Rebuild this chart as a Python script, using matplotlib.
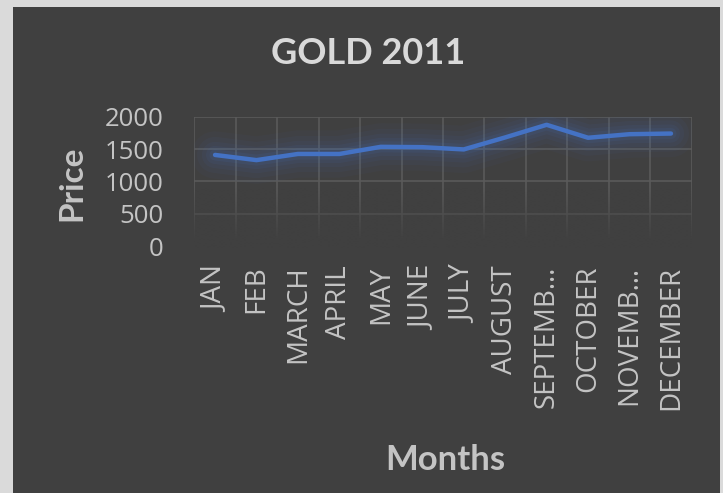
import numpy as np
import matplotlib
matplotlib.use("Agg")
import matplotlib.pyplot as plt
from matplotlib.patches import Rectangle

months = ["JAN", "FEB", "MARCH", "APRIL", "MAY", "JUNE", "JULY", "AUGUST",
          "SEPTEMB…", "OCTOBER", "NOVEMB…", "DECEMBER"]
price = [1410, 1330, 1425, 1425, 1535, 1530, 1495, 1680, 1875, 1675, 1730, 1740]
y_ticks = [0, 500, 1000, 1500, 2000]

BG = "#404040"
GRID = "#5a5a5a"
TXT = "#d9d9d9"
TICK = "#c4c4c4"
LINE = "#4472C4"

fig = plt.figure(figsize=(7.23, 4.93), dpi=100, facecolor="#dadada")
# dark chart panel inside the light frame
panel = Rectangle((13 / 723, 0), (720 - 13) / 723, 1 - 7 / 493,
                  transform=fig.transFigure, facecolor=BG,
                  edgecolor="none", zorder=-10)
fig.add_artist(panel)

ax = fig.add_axes([194.3 / 723, 1 - 246.3 / 493, (691.7 - 194.3) / 723,
                   (246.3 - 116.7) / 493])
ax.set_facecolor(BG)
x = np.arange(len(months))

ax.set_xlim(-0.5, len(months) - 0.5)
ax.set_ylim(0, 2000)
ax.set_yticks(y_ticks)
ax.set_yticklabels([str(v) for v in y_ticks])
ax.set_xticks(np.arange(-0.5, len(months), 1.0), minor=False)
ax.set_xticklabels([])
ax.set_xticks(x, minor=True)
ax.set_xticklabels(months, minor=True, rotation=90, va="top", ha="center")

ax.grid(True, which="major", color=GRID, linewidth=1.2)
ax.set_axisbelow(True)
for s in ax.spines.values():
    s.set_visible(False)
ax.tick_params(which="both", length=0)
ax.tick_params(axis="y", labelsize=18.5, labelcolor=TICK, pad=22)
ax.tick_params(axis="x", which="minor", labelsize=20, labelcolor=TICK, pad=14)
for lbl in ax.get_yticklabels() + ax.get_xticklabels(minor=True):
    lbl.set_fontfamily("Open Sans")

# grid fades out toward the bottom of the plot area
fade = np.zeros((256, 1, 4))
fade[..., :3] = matplotlib.colors.to_rgb(BG)
fade[:, 0, 3] = np.clip(np.linspace(0.0, 1.15, 256), 0, 1) ** 1.1
ax.imshow(fade, extent=(-0.5, len(months) - 0.5, -20, 900), aspect="auto",
          origin="upper", zorder=1, interpolation="bilinear", clip_on=False)
ax.set_xlim(-0.5, len(months) - 0.5)
ax.set_ylim(0, 2000)

# soft glow behind the series line
for w, a in [(34, 0.04), (26, 0.05), (19, 0.06), (13, 0.08), (8, 0.10)]:
    ax.plot(x, price, color=LINE, linewidth=w, alpha=a,
            solid_capstyle="round", solid_joinstyle="round", zorder=2)
ax.plot(x, price, color=LINE, linewidth=3.2, solid_capstyle="round",
        solid_joinstyle="round", zorder=3)

fig.text(368 / 723, 1 - 54 / 493, "GOLD 2011", ha="center", va="center",
         fontsize=26, fontweight="bold", color=TXT, family="Lato")
fig.text(72 / 723, 1 - 183 / 493, "Price", ha="center", va="center",
         rotation=90, fontsize=24, fontweight="bold", color=TICK, family="Lato")
fig.text(445 / 723, 1 - 460 / 493, "Months", ha="center", va="center",
         fontsize=25, fontweight="bold", color=TICK, family="Lato")

fig.savefig("out.png", dpi=100, facecolor=fig.get_facecolor())
